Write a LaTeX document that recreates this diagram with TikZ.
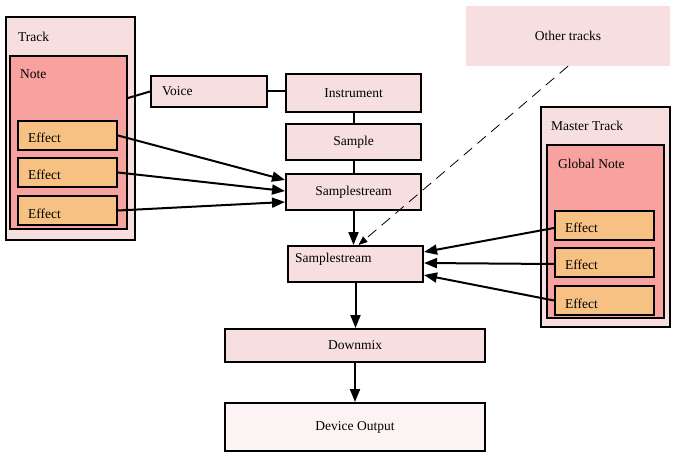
\documentclass[tikz,border=0pt]{standalone}
\usepackage{fontspec}
\setmainfont{Liberation Serif}
\usetikzlibrary{arrows.meta}
\definecolor{lpink}{RGB}{247,223,223}
\definecolor{salmon}{RGB}{248,162,160}
\definecolor{peach}{RGB}{246,193,130}
\definecolor{vpink}{RGB}{252,244,244}
\begin{document}
\begin{tikzpicture}[x=1pt,y=-1pt,
  every node/.style={font=\fontsize{13.5}{16}\selectfont, inner sep=0pt},
  box/.style={draw=black, line width=2pt, rectangle},
  pinkbox/.style={box, fill=lpink},
  notebox/.style={box, fill=salmon},
  effbox/.style={box, fill=peach, minimum width=99pt, minimum height=29pt},
  lbl/.style={anchor=west},
  conn/.style={line width=2pt},
  arr/.style={conn, -{Triangle[length=13pt,width=10pt]}},
  darr/.style={line width=0.8pt, dash pattern=on 11pt off 7pt, -{Triangle[length=9pt,width=7pt]}}]
\useasboundingbox (0,0) rectangle (676,457);
% Track
\node[pinkbox, minimum width=129pt, minimum height=223pt] (track) at (70.5,128.5) {};
\node[lbl] (tracklbl) at (18,37) {Track};
\node[notebox, minimum width=117pt, minimum height=173pt] (note) at (68.5,142.5) {};
\node[lbl] (notelbl) at (20,74) {Note};
\node[effbox] (te1) at (67.5,135.5) {};
\node[lbl] (te1l) at (28,138) {Effect};
\node[effbox] (te2) at (67.5,172.5) {};
\node[lbl] (te2l) at (28,175) {Effect};
\node[effbox] (te3) at (67.5,210.5) {};
\node[lbl] (te3l) at (28,214) {Effect};
% chain
\node[pinkbox, minimum width=116pt, minimum height=31pt] (voice) at (209,91.5) {};
\node[lbl] (voicel) at (162,91) {Voice};
\node[pinkbox, minimum width=135pt, minimum height=38pt] (instr) at (353.5,93) {Instrument};
\node[pinkbox, minimum width=135pt, minimum height=36pt] (sample) at (353.5,142) {Sample};
\node[pinkbox, minimum width=135pt, minimum height=36pt] (ss1) at (353.5,192) {Samplestream};
% other tracks
\node[fill=lpink, minimum width=204pt, minimum height=60pt] (other) at (568,36) {Other tracks};
% master
\node[pinkbox, minimum width=129pt, minimum height=220pt] (master) at (605.5,217) {};
\node[lbl] (masterl) at (551,126) {Master Track};
\node[notebox, minimum width=117pt, minimum height=173pt] (gnote) at (605.5,231.5) {};
\node[lbl] (gnotel) at (558,164) {Global Note};
\node[effbox] (me1) at (604.5,225.5) {};
\node[lbl] (me1l) at (565,228) {Effect};
\node[effbox] (me2) at (604.5,262.5) {};
\node[lbl] (me2l) at (565,265) {Effect};
\node[effbox] (me3) at (604.5,300.5) {};
\node[lbl] (me3l) at (565,304) {Effect};
% lower
\node[pinkbox, minimum width=135pt, minimum height=36pt] (ss2) at (355.5,264) {};
\node[lbl] (ss2l) at (295,259) {Samplestream};
\node[pinkbox, minimum width=260pt, minimum height=33pt] (downmix) at (355,345.5) {Downmix};
\node[box, fill=vpink, minimum width=260pt, minimum height=48pt] (device) at (355,427) {Device Output};
% connectors
\draw[conn] ([yshift=44.5pt]note.east) -- (voice.west);
\draw[conn] (voice.east) -- (voice.east -| instr.west);
\draw[conn] (instr.south) -- (sample.north);
\draw[conn] (sample.south) -- (ss1.north);
\draw[arr] (te1.east) -- ([yshift=12pt]ss1.west);
\draw[arr] (te2.east) -- ([yshift=1pt]ss1.west);
\draw[arr] (te3.east) -- ([yshift=-10pt]ss1.west);
\draw[arr] (ss1.south) -- (ss1.south |- ss2.north);
\draw[darr] (other.south) -- ([xshift=3pt]ss2.north);
\draw[arr] ([yshift=-2.5pt]me1.west) -- ([yshift=12pt]ss2.east);
\draw[arr] ([yshift=-1.5pt]me2.west) -- ([yshift=1pt]ss2.east);
\draw[arr] (me3.west) -- ([yshift=-11pt]ss2.east);
\draw[arr] (ss2.south) -- (ss2.south |- downmix.north);
\draw[arr] (downmix.south) -- (device.north);
\end{tikzpicture}
\end{document}
